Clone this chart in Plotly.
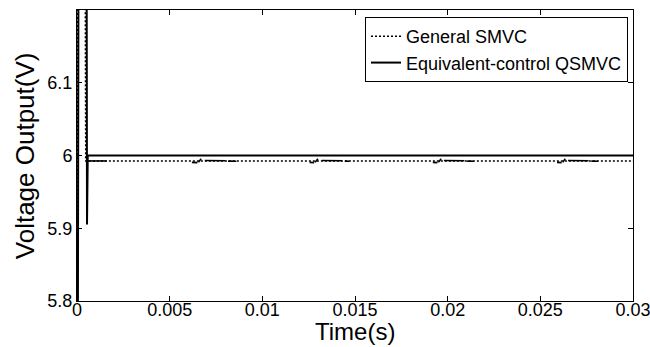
import plotly.graph_objects as go

# Equivalent-control QSMVC (solid)
t_eq = [0.0, 0.00010, 0.00050, 0.00052, 0.00054, 0.00058, 0.030]
v_eq = [5.0, 6.6, 6.6, 6.032, 5.905, 6.0, 6.0]

# General SMVC (dotted)
t_gen = [0.0, 0.00004, 0.00041, 0.00043, 0.00047, 0.030]
v_gen = [5.0, 6.6, 6.6, 6.04, 5.9925, 5.9925]

# Ripple segments of General SMVC (dense, look solid)
rip_t = [0.00058, 0.0016, None,
         0.0062, 0.0065, None, 0.00655, 0.0067, None, 0.0069, 0.0080, None, 0.00815, 0.0086, None,
         0.01255, 0.0128, None, 0.01285, 0.0130, None, 0.0132, 0.0143, None, 0.01445, 0.0147, None,
         0.0192, 0.01945, None, 0.0195, 0.01965, None, 0.0198, 0.0209, None, 0.02105, 0.0214, None,
         0.0259, 0.02615, None, 0.0262, 0.02635, None, 0.0265, 0.0276, None, 0.02775, 0.0281]
rip_v = [5.9925, 5.9925, None,
         5.9905, 5.9902, None, 5.9908, 5.9955, None, 5.9932, 5.9928, None, 5.9922, 5.9920, None,
         5.9905, 5.9902, None, 5.9908, 5.9955, None, 5.9932, 5.9928, None, 5.9922, 5.9920, None,
         5.9905, 5.9902, None, 5.9908, 5.9955, None, 5.9932, 5.9928, None, 5.9922, 5.9920, None,
         5.9905, 5.9902, None, 5.9908, 5.9955, None, 5.9932, 5.9928, None, 5.9922, 5.9920]

x_ticks = [0, 0.005, 0.01, 0.015, 0.02, 0.025, 0.03]
x_labels = ["0", "0.005", "0.01", "0.015", "0.02", "0.025", "0.03"]
y_ticks = [5.8, 5.9, 6.0, 6.1]
y_labels = ["5.8", "5.9", "6", "6.1"]

fig = go.Figure()
fig.add_trace(go.Scatter(x=t_gen, y=v_gen, mode="lines", name="General SMVC",
                         line=dict(color="black", width=1.5, dash="2px,2px")))
fig.add_trace(go.Scatter(x=t_eq, y=v_eq, mode="lines", name="Equivalent-control QSMVC",
                         line=dict(color="black", width=2)))
fig.add_trace(go.Scatter(x=rip_t, y=rip_v, mode="lines", showlegend=False,
                         line=dict(color="black", width=1.6), connectgaps=False))

font = "Liberation Sans, Arial, sans-serif"
fig.update_layout(
    width=650, height=347,
    margin=dict(l=77, r=17, t=10, b=46),
    paper_bgcolor="white", plot_bgcolor="white",
    font=dict(family=font, color="black", size=18),
    legend=dict(x=0.991, y=0.976, xanchor="right", yanchor="top",
                bordercolor="black", borderwidth=1, bgcolor="white",
                font=dict(size=18), tracegroupgap=0, itemwidth=30),
    showlegend=True,
    annotations=[
        dict(text="Time(s)", xref="paper", yref="paper", x=0.5, y=-0.158,
             xanchor="center", yanchor="bottom", showarrow=False, font=dict(size=24)),
        dict(text="Voltage Output(V)", xref="paper", yref="paper", x=-0.094, y=0.5,
             xanchor="center", yanchor="middle", showarrow=False, textangle=-90,
             font=dict(size=26)),
    ],
)
fig.update_xaxes(range=[0, 0.03], tickvals=x_ticks, ticktext=x_labels, automargin=False,
                 showline=True, linecolor="black", linewidth=1, mirror="ticks",
                 ticks="inside", ticklen=5, tickcolor="black", showgrid=False, zeroline=False,
                 tickfont=dict(size=18), ticklabeloverflow="allow",
                 ticklabelposition="outside", ticklabelstandoff=-8)
fig.update_yaxes(range=[5.8, 6.2], tickvals=y_ticks, ticktext=y_labels, automargin=False,
                 showline=True, linecolor="black", linewidth=1, mirror="ticks",
                 ticks="inside", ticklen=5, tickcolor="black", showgrid=False, zeroline=False,
                 tickfont=dict(size=18))

fig.write_html("out.html")
